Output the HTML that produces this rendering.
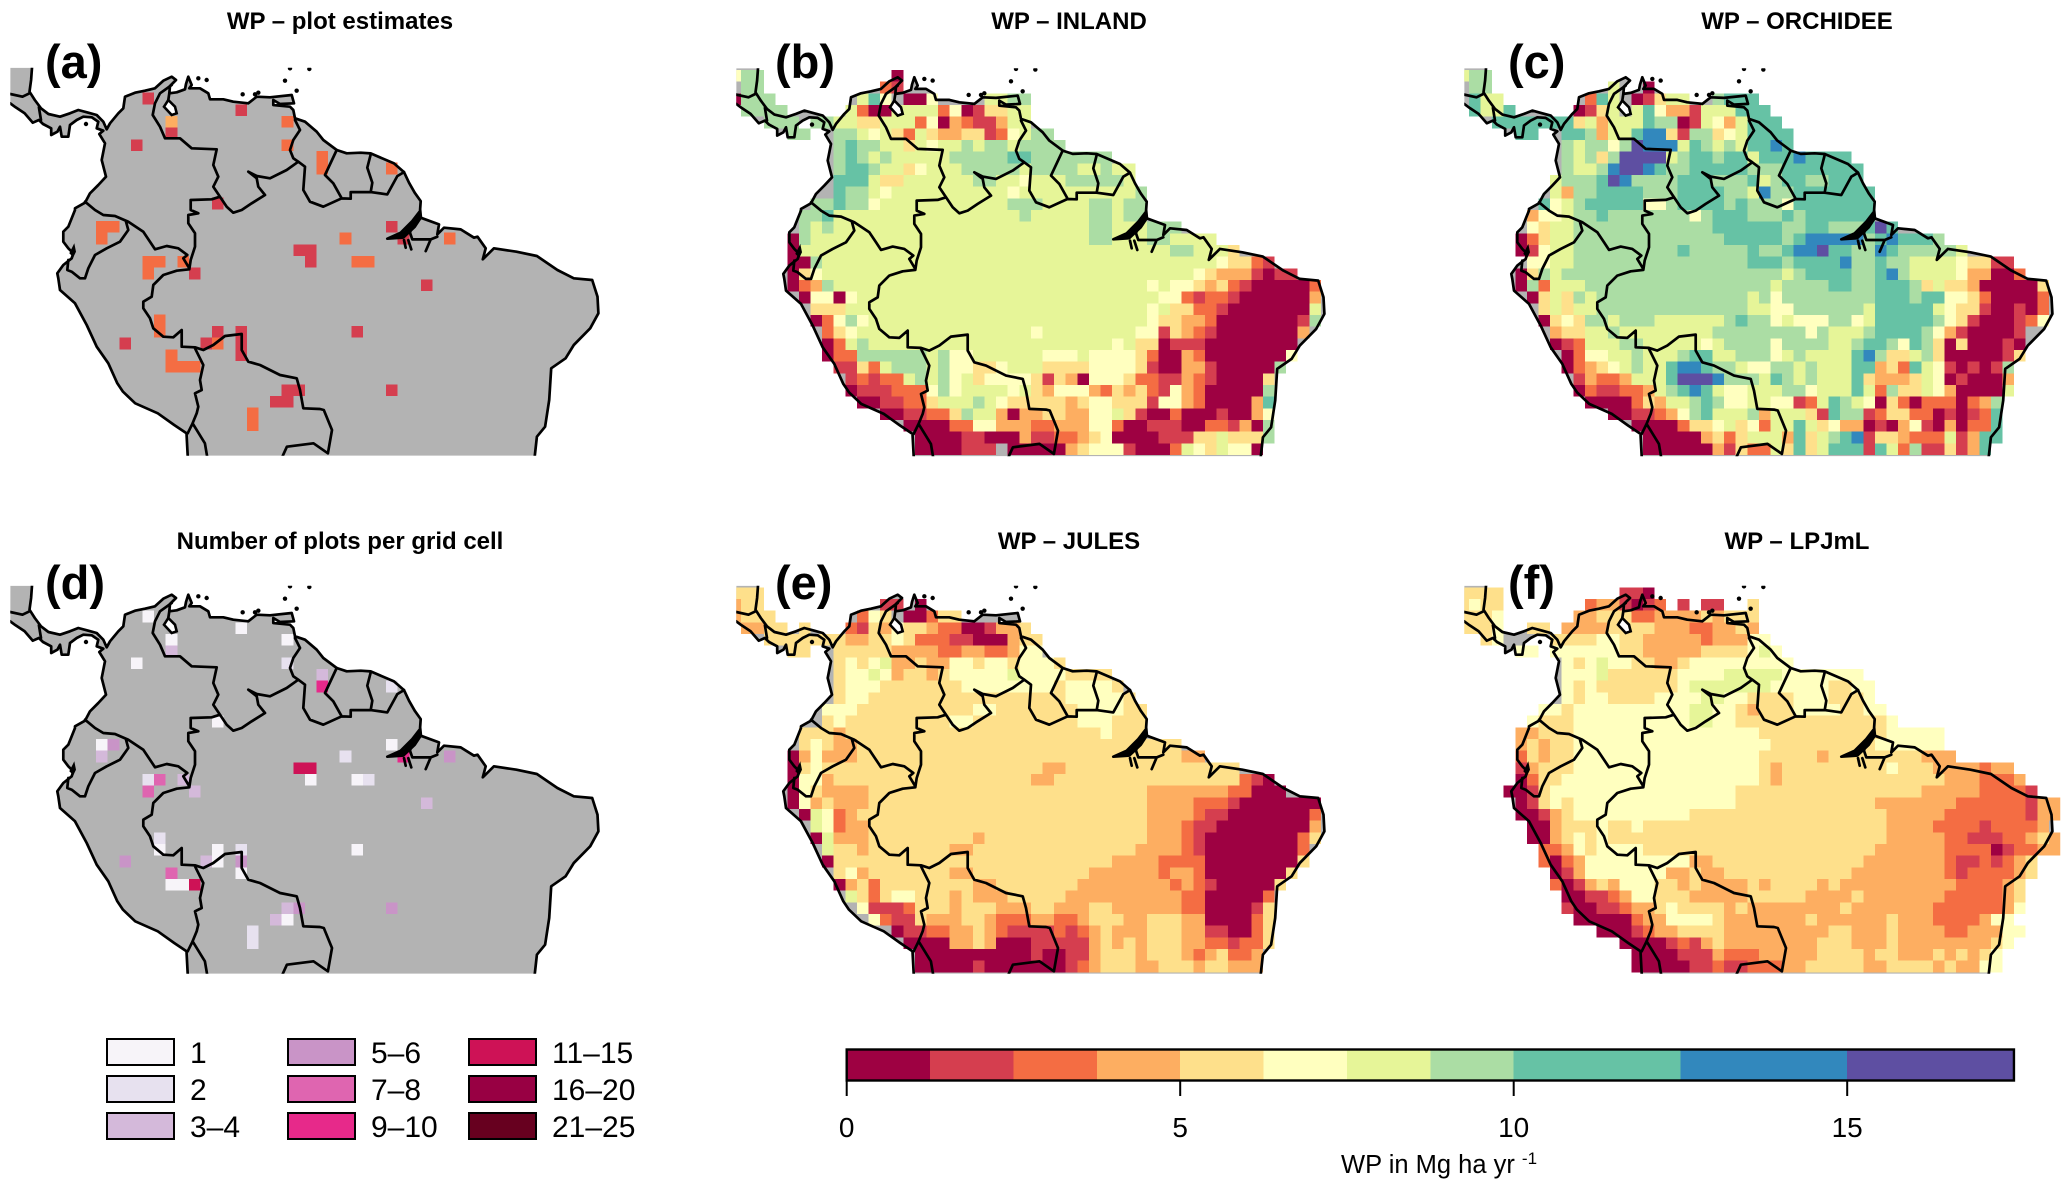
<!DOCTYPE html>
<html lang="en">
<head>
<meta charset="utf-8">
<title>Wood productivity maps</title>
<style>
html,body{margin:0;padding:0;background:#fff;}
svg{display:block;}
text{font-family:"Liberation Sans",sans-serif;fill:#000;}
.title{font-size:24px;font-weight:bold;text-anchor:middle;}
.tag{font-size:47px;font-weight:bold;}
.lab{font-size:30px;}
</style>
</head>
<body>
<svg id="fig" xmlns="http://www.w3.org/2000/svg" width="2067" height="1190" viewBox="0 0 2067 1190">
<defs><clipPath id="map-clip"><rect x="10.25" y="67.7" width="596" height="388"/></clipPath></defs>
<rect width="2067" height="1190" fill="#fff"/>
<g id="maps"></g>
<text class="title" x="340" y="29">WP – plot estimates</text>
<text class="title" x="1069" y="29">WP – INLAND</text>
<text class="title" x="1797" y="29">WP – ORCHIDEE</text>
<text class="title" x="340" y="549">Number of plots per grid cell</text>
<text class="title" x="1069" y="549">WP – JULES</text>
<text class="title" x="1797" y="549">WP – LPJmL</text>
<text class="tag" x="45" y="78">(a)</text>
<text class="tag" x="775" y="78">(b)</text>
<text class="tag" x="1508" y="78">(c)</text>
<text class="tag" x="45" y="599">(d)</text>
<text class="tag" x="775" y="599">(e)</text>
<text class="tag" x="1508" y="599">(f)</text>
<g id="count-legend"></g>
<g id="colorbar"></g>
<text x="1341" y="1173" font-size="25.5">WP in Mg ha yr <tspan dy="-9" font-size="17">-1</tspan></text>
</svg>
<script>
/* colour-scale data */
const wpBreaks = [0, 1.25, 2.5, 3.75, 5, 6.25, 7.5, 8.75, 10, 12.5, 15, 17.5];
const wpTicks = [0, 5, 10, 15];
const countUpper = [1, 2, 4, 6, 8, 10, 15, 20, 25];
const countLabels = ["1", "2", "3–4", "5–6", "7–8", "9–10", "11–15", "16–20", "21–25"];

/* grid values: each character is a WP band index (hex), '.' = no data */
const inlandRows = [
"577.. ..... ....0 ..... ..... ..... ..... ..... ..... ..... ..",
".77.. ..... ...21 ..... ..... ..... ..... ..... ..... ..... ..",
"0777. ..... .685. 005.. ..667 7.... ..... ..... ..... ..... ..",
".7777 ..... 62006 66625 01446 6.... ..... ..... ..... ..... ..",
"...77 7.776 64466 62503 21136 6.... ..... ..... ..... ..... ..",
"..... 77..7 76564 26433 44125 677.. ..... ..... ..... ..... ..",
"..... ....7 87766 46566 76776 7777. ..... ..... ..... ..... ..",
"..... ....7 87676 66667 77778 87777 777.. ..... ..... ..... ..",
"..... ....7 88766 45666 77777 67777 66766 ..... ..... ..... ..",
"..... ....8 88644 66666 67766 56667 77776 ..... ..... ..... ..",
"..... ....8 77656 66666 66665 66666 66666 7.... ..... ..... ..",
"..... ..778 77566 66666 66667 77666 67767 7.... ..... ..... ..",
"..... .7786 66666 66666 66666 76666 67767 7.... ..... ..... ..",
"..... .7676 66666 66666 66666 66666 67766 6777. ..... ..... ..",
"..... 07666 66666 66666 66666 66666 67766 67766 66... ..... ..",
"..... 06666 66666 66666 66666 66666 66666 66677 6664. ..... ..",
"..... 00766 66666 66666 66666 66666 66666 66666 66544 21... ..",
"..... 04566 66666 66666 66666 66666 66666 66666 54333 1011. ..",
"..... 02376 66666 66666 66666 66666 66666 65655 43421 00000 2.",
"..... .0550 56666 66666 66666 66666 66666 66552 12210 00000 3.",
"..... ..444 66666 66666 66666 66666 66666 65644 22100 00000 6.",
"..... ..025 75666 66666 66666 66666 66666 65443 32000 00001 7.",
"..... ...24 56666 66666 66666 65666 66666 55143 21000 00003 ..",
"..... ...02 67666 66666 66666 66666 66656 44011 10000 0000. ..",
"..... ...02 27777 77675 56666 66555 65555 42003 20000 0005. ..",
"..... ....1 14267 77675 54456 66444 45555 41003 31000 007.. ..",
"..... ..... 12122 67675 64555 54143 05554 22113 21000 04... ..",
"..... ..... 01112 22575 66665 64355 53243 42153 20000 07... ..",
"..... ..... .0011 22466 67654 44443 45544 41553 20000 38... ..",
"..... ..... ...00 11224 76630 33443 35564 10020 00100 35... ..",
"..... ..... ..... 00002 25533 32233 35520 01110 02213 07... ..",
"..... ..... ..... .0000 11000 31122 34500 00111 44644 47... ..",
"..... ..... ..... .0000 111.0 00003 45551 00026 54655 0.... .."
];
const orchideeRows = [
"677.. ..... ..... ..... ..... ..... ..... ..... ..... ..... ..",
".77.. ..... ...6. .0... ..... ..... ..... ..... ..... ..... ..",
".866. ..... .286. 01466 ..788 8.... ..... ..... ..... ..... ..",
".8668 ..... 0146. 68533 16668 88... ..... ..... ..... ..... ..",
"...88 88888 46366 68770 16536 888.. ..... ..... ..... ..... ..",
"..... 88..8 87366 89941 77456 8888. ..... ..... ..... ..... ..",
"..... ....7 67757 a9996 87676 8898. ..... ..... ..... ..... ..",
"..... ....7 6747a aaa67 88788 68889 8888. ..... ..... ..... ..",
"..... ....7 6679a a9877 88888 77788 88888 ..... ..... ..... ..",
"..... ...67 778a9 77778 88777 86788 77888 ..... ..... ..... ..",
"..... ...63 77888 87778 88877 69778 88888 8.... ..... ..... ..",
"..... ..856 78888 85578 88878 77758 88888 8.... ..... ..... ..",
"..... .3556 77877 77777 57888 77787 88888 8.... ..... ..... ..",
"..... .5466 77777 77777 77888 88877 88777 8a8.. ..... ..... ..",
"..... 02466 77777 77777 77788 88878 99999 78988 87... ..... ..",
"..... 01566 77777 77778 77777 87789 9a887 79877 7776. ..... ..",
"..... .5566 77777 77777 77777 88878 88897 78776 66654 411.. ..",
"..... 04767 77777 77777 77777 77767 88887 78976 66653 3002. ..",
"..... 07266 67777 77777 77777 77677 77887 78887 46443 00000 4.",
"..... .0464 76777 77777 77777 67577 77777 78887 88554 20000 2.",
"..... ..464 66777 77777 77777 66557 77777 68888 86544 10010 2.",
"..... ..045 47767 77666 66678 77565 55775 68888 87541 00012 5.",
"..... ...34 46676 66666 66777 77777 57666 78888 75310 0001. ..",
"..... ...01 26667 76666 65677 77577 77667 88758 74040 0010. ..",
"..... ....0 25566 76667 88667 77567 66668 97446 74000 0014. ..",
"..... ....0 23456 76689 98776 55776 76668 83428 65101 017.. ..",
"..... ..... 13223 6668a aa977 76876 76668 43334 65010 003.. ..",
"..... ..... 02112 23678 98655 66677 56668 62744 65300 006.. ..",
"..... ..... .0000 24366 78755 66551 26876 50420 22202 37... ..",
"..... ..... ...00 11235 78666 73666 41877 12442 20101 28... ..",
"..... ..... ..... 00002 44564 52668 64533 01035 10302 28... ..",
"..... ..... ..... .0000 03424 66638 46789 14432 22613 88... ..",
"..... ..... ..... .0000 00314 22648 46888 18627 11413 8.... .."
];
const julesRows = [
"444.. ..... ..... ..... ..... ..... ..... ..... ..... ..... ..",
"344.. ..... ...11 .0... ..... ..... ..... ..... ..... ..... ..",
"3444. ..... .254. 00244 ..... ..... ..... ..... ..... ..... ..",
".3344 .4... 21435 44322 00133 4.... ..... ..... ..... ..... ..",
"...44 44444 33445 42221 10003 44... ..... ..... ..... ..... ..",
"..... 44..4 44443 33322 33223 55... ..... ..... ..... ..... ..",
"..... ....4 54563 34335 54554 5554. ..... ..... ..... ..... ..",
"..... ....4 55653 44345 55556 55554 444.. ..... ..... ..... ..",
"..... ....4 55544 44444 55555 55545 5554. ..... ..... ..... ..",
"..... ....4 55444 44444 44444 44445 55554 ..... ..... ..... ..",
"..... ...55 54444 44444 45544 44444 55554 4.... ..... ..... ..",
"..... ...45 44444 44445 54444 44444 55544 4.... ..... ..... ..",
"..... .4443 44444 44444 44444 44444 44544 4.... ..... ..... ..",
"..... .4543 34444 44444 44444 44444 44444 4444. ..... ..... ..",
"..... 03533 34444 44444 44444 44444 44444 44443 3.... ..... ..",
"..... 04544 44444 44444 44444 44334 44444 44444 4444. ..... ..",
"..... 05534 44444 44444 44444 43344 44444 44444 44442 10... ..",
"..... 05433 33444 44444 44444 44444 44444 43333 33322 000.. ..",
"..... 05343 33444 44444 44444 44444 44444 43333 22210 00000 0.",
"..... .0652 34444 44444 44444 44444 44444 43333 21100 00000 2.",
"..... ..652 33444 44444 44444 44444 44444 43332 11000 00000 3.",
"..... ..063 33444 44444 43444 44444 44444 43332 10000 00002 4.",
"..... ...64 43444 44443 34444 44444 44444 33332 10000 00002 ..",
"..... ...04 44444 44444 44444 44444 44433 33222 20000 00004 ..",
"..... ....4 53444 44443 34444 44444 43333 33233 20000 0004. ..",
"..... ....0 34244 44444 43344 44444 33333 33323 21000 004.. ..",
"..... ..... 64245 54443 43334 44443 33333 33332 20000 02... ..",
"..... ..... .5111 24443 44433 34433 34433 33332 20000 14... ..",
"..... ..... ..521 14333 44322 23322 34443 34443 30000 24... ..",
"..... ..... ....0 11223 34321 11121 23433 34443 31100 24... ..",
"..... ..... ..... 00003 34300 01111 13434 34443 32212 24... ..",
"..... ..... ..... .0000 00000 01001 13444 34443 23422 3.... ..",
"..... ..... ..... .0000 01000 00001 23444 33444 34433 3.... .."
];
const lpjmlRows = [
"4444. ..... ....1 10... ..... ..... ..... ..... ..... ..... ..",
"4544. ..... .2331 012.1 .11.. 4.... ..... ..... ..... ..... ..",
"4445. ..... 33444 22333 34344 4.... ..... ..... ..... ..... ..",
"4445. .44.3 33344 44333 22334 3.... ..... ..... ..... ..... ..",
"..45. ...44 44554 43333 32333 55... ..... ..... ..... ..... ..",
"..... 55.55 55554 43333 34444 565.. ..... ..... ..... ..... ..",
"..... ....5 45655 44334 55555 5555. ..... ..... ..... ..... ..",
"..... ....5 55644 44445 55566 66655 55555 ..... ..... ..... ..",
"..... ....5 45444 44445 66666 66555 55445 5.... ..... ..... ..",
"..... ....5 45544 44555 56655 44445 55444 5.... ..... ..... ..",
"..... ..554 55555 55555 66554 34445 55544 55... ..... ..... ..",
"..... .5444 55555 55555 66554 44444 44444 445.. ..... ..... ..",
"..... 33444 55555 55555 55555 54444 44444 44555 55... ..... ..",
"..... 34344 55555 55555 55555 55444 44444 45555 55... ..... ..",
"..... 24344 55555 55555 55555 54444 43444 44444 333.. ..... ..",
"..... 13444 55555 55555 55555 54344 44444 44544 43333 233.. ..",
"..... 02445 55555 55555 55555 54344 44444 44444 44333 2223. ..",
"....0 01455 55555 55555 55554 44444 44444 44444 33333 22221 ..",
"..... 01454 55555 55555 55554 44444 44444 43333 33322 22221 33",
"..... 00134 55555 55555 44444 44444 44444 44333 33222 22221 33",
"..... .0034 44544 54444 44444 44444 44444 44333 32222 12222 3.",
"..... .0034 54544 44444 44444 44444 44444 44333 33221 11223 43",
"..... ..223 54555 54444 44444 44444 44444 43333 33222 20122 33",
"..... ..202 35555 55555 33444 44444 44444 33333 33211 21234 ..",
"..... ...01 35555 55533 43344 44444 44443 33333 33212 22234 ..",
"..... ...20 13435 55443 43333 43444 43433 33333 33322 2234. ..",
"..... ....0 01123 55444 33333 44444 33334 33333 33222 2234. ..",
"..... ....1 00112 33454 44434 33333 33343 33333 32222 2235. ..",
"..... ..... 00000 23355 55433 33333 43333 33433 32222 355.. ..",
"..... ..... ..000 12334 44433 33333 33443 33433 33223 3355. ..",
"..... ..... ....0 00012 13433 33333 34443 33433 33333 345.. ..",
"..... ..... ..... 00001 11322 23333 34444 34433 34343 45... ..",
"..... ..... ..... 00000 11211 22233 44444 33444 43433 55... .."
];

/* plot-based grid cells shown in panels (a) and (d) */
const plotCols  = [12,20,14,14,11,24,24,27,27,33,18,33,29,34,38,8,9,8,25,26,26,30,31,12,13,12,15,16,36,13,13,18,20,30,10,17,18,20,20,14,14,15,16,24,25,23,24,33,21,21];
const plotRows  = [2,3,4,5,6,4,6,7,8,8,11,13,14,14,14,13,13,14,15,15,16,16,16,16,16,17,16,17,18,21,22,22,22,22,23,23,23,23,24,24,25,25,25,27,27,28,28,27,29,30];
const plotWP    = [2,2,4.4,2,2,3,3,3,3,3,2,2,3,2,3,3,3,3,2,2,2,3,3,3,3,3,3,2,2,3,3,2,2,2,2,2,3,2,2,3,3,3,3,2,2,2,2,2,3,3];
const plotCount = [1,1,1,3,1,1,2,3,10,2,1,1,2,10,5,1,5,3,12,12,1,1,2,2,7,7,3,3,3,2,1,1,2,1,5,3,1,5,1,7,1,1,12,3,5,3,1,5,2,2];

/* outline traces; each trace lists [space, points] segments */
const F = (x, y) => [x / 2.44, y / 3];
const A = (x, y) => [60 + x / 3, 60 + y / 3];
const B = (x, y) => [40 + x / 3, 210 + y / 3];
const C = (x, y) => [174 + x / 3, 149.4 + y / 3];

const coastEastTrace = [
  [F, "78 203 76 240 72 275 85 300 100 325 118 342"],
  [A, "0 170 30 160 55 150 85 158 110 165 130 185 140 208 150 190 175 160 190 145 195 110 225 98 255 92 285 85 310 62 335 50 348 60 330 78 328 100 350 97 375 88 378 72 385 50 395 75 388 85 420 85 445 100 450 118 490 118 520 125 565 130 590 110 630 112 695 105 702 130 660 132 640 120 640 135 690 140 700 150 705 175 735 185 770 215 790 240 830 270 860 280"],
  [C, "560 10 590 12 660 42 690 68 705 100 722 130 740 155 738 185 715 215 680 250 640 268 685 265 715 235 740 205 795 225 790 255 810 235 860 240 900 265"],
  [F, "1165 710 1185 745 1178 778 1205 745 1260 755 1310 768 1360 810 1400 835 1445 840 1458 890 1460 940 1440 985 1400 1035 1380 1075 1345 1105 1340 1200 1330 1280 1310 1310 1305 1367"]
];
const coastWestTrace = [
  [F, "458 1367 455 1300 425 1275 385 1240 330 1210 300 1175"],
  [B, "232 520 205 460 170 410 140 345 105 280 60 240 55 205 52 190 70 165 95 145 100 130 85 115 70 95 70 65 85 50 97 20 105 0"],
  [A, "45 445 75 428 90 400 115 375 138 350 125 300 135 250 118 222 130 212 110 205 115 185 95 172 70 170 50 180 30 195 25 230 5 230 0 200"],
  [F, "140 395 125 405 125 385 105 372 95 360 80 368 60 340 38 322 25 310"]
];
const borderTraces = [
  [[F, "25 282 55 290 72 280"]],
  [[F, "95 322 100 360"]],
  [[A, "335 75 300 100 285 130 278 165 300 200 315 235 360 235 395 265 470 268 460 315 475 350 460 380 480 410 500 440 520 458 545 450 575 430 615 405 595 380 590 355 565 335 590 348 630 355 680 330 715 305"]],
  [[A, "705 180 720 210 700 240 690 270 700 295 715 305 735 320 730 390 750 425 790 440 845 415 820 370 795 345 830 270"]],
  [[C, "503 147 530 148 530 128 590 128 640 135 670 80 690 68"]],
  [[C, "590 15 580 55 595 100 590 128"]],
  [[A, "480 410 455 418 392 420 392 450 415 460 385 465 385 490 405 520 405 560 392 600"], [B, "448 178"]],
  [[A, "75 425 105 450"], [B, "190 15 225 18 265 35 310 65 330 95 345 118 380 108 415 115 442 135 430 145 448 175"]],
  [[B, "258 35 265 60 240 95 200 115 165 135 145 175 135 205 120 205 95 185 82 180 85 150"]],
  [[B, "448 178 410 182 370 195 340 225 335 260 310 275 310 295 330 325 340 355 370 380 400 382 425 360 425 410 465 412 490 420 520 405 555 378 605 372 605 420 625 455 660 465 720 495 770 505 780 540 790 595 840 597"], [F, "790 1230 810 1290 800 1360"]],
  [[B, "465 415 490 465 480 510 485 540 465 550 475 590"], [F, "480 1240 470 1270 458 1300"]],
  [[F, "470 1270 500 1330 505 1367"]],
  [[F, "690 1367 700 1340 765 1330 800 1360"]],
  [[C, "715 225 708 250 715 270 770 270 790 262"]],
  [[C, "690 272 695 295"]],
  [[C, "703 272 712 300"]],
  [[C, "770 270 755 305"]],
  [[A, "328 100 325 120"]]
];
const mouthTraces = [
  [[C, "740 155 738 190 715 215 690 245 640 268 690 268 725 235 745 205"]],
  [[B, "103 100 108 125 100 142 88 130"]]
];
const lakeTrace = [[A, "325 120 345 140 350 160 335 165 312 140"]];
const islandTrace = "690 25 748 27 675 62 710 92 548 103 595 98 585 103 440 60 415 55 78 192";

function toPairs(trace) {
  const out = [];
  trace.forEach(seg => {
    const n = seg[1].trim().split(/\s+/).map(Number);
    for (let i = 0; i < n.length; i += 2) {
      const p = seg[0](n[i], n[i + 1]);
      out.push(p[0].toFixed(1) + " " + p[1].toFixed(1));
    }
  });
  return out.join(" L");
}
const coastEast = toPairs(coastEastTrace);
const coastWest = toPairs(coastWestTrace);
const landD = "M10.25 67.7 L" + coastEast + " L" + coastWest + " Z";
const coastD = "M" + coastEast + " M" + coastWest;
const borderD = borderTraces.map(t => "M" + toPairs(t)).join(" ");
const mouthD = mouthTraces.map(t => "M" + toPairs(t) + " Z").join(" ");
const lakeD = "M" + toPairs(lakeTrace) + " Z";

const wpColors = ["#9E0142","#D53E4F","#F46D43","#FDAE61","#FEE08B","#FFFFBF","#E6F598","#ABDDA4","#66C2A5","#3288BD","#5E4FA2"];
const countColors = ["#F7F4F9","#E7E1EF","#D4B9DA","#C994C7","#DF65B0","#E7298A","#CE1256","#980043","#67001F"];
const SVGNS = "http://www.w3.org/2000/svg";

function mk(tag, parent) {
  const el = document.createElementNS(SVGNS, tag);
  parent.appendChild(el);
  return el;
}
/* axis functions */
const colX = k => 3.28 + 11.6 * k;
const rowY = r => 69.33 + 11.667 * r;
const barX = v => 846.7 + 66.7 * v;
function wpColor(v) {
  for (let i = 0; i < wpColors.length; i++) if (v < wpBreaks[i + 1]) return wpColors[i];
  return wpColors[wpColors.length - 1];
}
function countColor(n) {
  for (let i = 0; i < countUpper.length; i++) if (n <= countUpper[i]) return countColors[i];
  return countColors[countColors.length - 1];
}
function bandValue(ch) {
  const i = parseInt(ch, 16);
  return (wpBreaks[i] + wpBreaks[i + 1]) / 2;
}

function drawCell(layer, k, r, fill) {
  const c = mk("rect", layer);
  
  
  c.setAttribute("x", colX(k));
  c.setAttribute("y", rowY(r));
  c.setAttribute("width", 11.6);
  c.setAttribute("height", 11.667);
  c.setAttribute("fill", fill);
  c.setAttribute("shape-rendering", "crispEdges");
}

function drawPanel(name, ox, oy, paint) {
  const maps = document.getElementById("maps");
  const g = mk("g", maps);
  
  
  g.setAttribute("transform", "translate(" + ox + " " + oy + ")");
  g.setAttribute("clip-path", "url(#map-clip)");

  const land = mk("path", g);
  
  
  land.setAttribute("d", landD);
  land.setAttribute("fill", "#B3B3B3");

  const cells = mk("g", g);
  
  
  paint(cells);

  const lake = mk("path", g);
  
  
  lake.setAttribute("d", lakeD);
  lake.setAttribute("fill", "#fff");
  lake.setAttribute("stroke", "#000");
  lake.setAttribute("stroke-width", "2.6");

  const coast = mk("path", g);
  
  
  coast.setAttribute("d", coastD);
  const border = mk("path", g);
  
  
  border.setAttribute("d", borderD);
  [coast, border].forEach(p => {
    p.setAttribute("fill", "none");
    p.setAttribute("stroke", "#000");
    p.setAttribute("stroke-width", "2.7");
    p.setAttribute("stroke-linejoin", "round");
    p.setAttribute("stroke-linecap", "round");
  });
  const mouth = mk("path", g);
  
  
  mouth.setAttribute("d", mouthD);
  mouth.setAttribute("fill", "#000");
  const dots = islandTrace.split(" ").map(Number);
  for (let i = 0; i < dots.length; i += 2) {
    const e = mk("circle", g);
    
    
    const p = A(dots[i], dots[i + 1]);
    e.setAttribute("cx", p[0]);
    e.setAttribute("cy", p[1]);
    e.setAttribute("r", 2.2);
    e.setAttribute("fill", "#000");
  }
}

function gridPainter(rows) {
  return layer => rows.forEach((row, r) => {
    const chars = row.replace(/ /g, "");
    for (let k = 0; k < chars.length; k++) {
      if (chars[k] !== ".") drawCell(layer, k, r, wpColor(bandValue(chars[k])));
    }
  });
}

drawPanel("map-panel-a", 0, 0, layer => plotCols.forEach((k, i) => drawCell(layer, k, plotRows[i], wpColor(plotWP[i]))));
drawPanel("map-panel-b", 726, 0.6, gridPainter(inlandRows));
drawPanel("map-panel-c", 1454, 0.6, gridPainter(orchideeRows));
drawPanel("map-panel-d", 0, 518, layer => plotCols.forEach((k, i) => drawCell(layer, k, plotRows[i], countColor(plotCount[i]))));
drawPanel("map-panel-e", 726, 518, gridPainter(julesRows));
drawPanel("map-panel-f", 1454, 518, gridPainter(lpjmlRows));

/* plot-count legend */
(function () {
  const lg = document.getElementById("count-legend");
  const legendLeft = k => 107 + 181 * k;
  const legendTop = r => 1039 + 37 * r;
  countLabels.forEach((label, i) => {
    const col = Math.floor(i / 3), row = i % 3;
    const s = mk("rect", lg);
    
    
    s.setAttribute("x", legendLeft(col));
    s.setAttribute("y", legendTop(row));
    s.setAttribute("width", 67);
    s.setAttribute("height", 26);
    s.setAttribute("fill", countColors[i]);
    s.setAttribute("stroke", "#000");
    s.setAttribute("stroke-width", "2");
    const t = mk("text", lg);
    
    
    t.setAttribute("class", "lab");
    t.setAttribute("x", legendLeft(col) + 83);
    t.setAttribute("y", legendTop(row) + 24);
    t.textContent = label;
  });
})();

/* colour bar */
(function () {
  const cb = document.getElementById("colorbar");
  wpColors.forEach((color, i) => {
    const seg = mk("rect", cb);
    
    
    seg.setAttribute("x", barX(wpBreaks[i]));
    seg.setAttribute("y", 1049.5);
    seg.setAttribute("width", barX(wpBreaks[i + 1]) - barX(wpBreaks[i]));
    seg.setAttribute("height", 31);
    seg.setAttribute("fill", color);
    seg.setAttribute("shape-rendering", "crispEdges");
  });
  const frame = mk("rect", cb);
  
  
  frame.setAttribute("x", barX(0));
  frame.setAttribute("y", 1049.5);
  frame.setAttribute("width", barX(17.5) - barX(0));
  frame.setAttribute("height", 31);
  frame.setAttribute("fill", "none");
  frame.setAttribute("stroke", "#000");
  frame.setAttribute("stroke-width", "2.4");
  wpTicks.forEach(v => {
    const tick = mk("line", cb);
    
    
    tick.setAttribute("x1", barX(v));
    tick.setAttribute("x2", barX(v));
    tick.setAttribute("y1", 1080.5);
    tick.setAttribute("y2", 1096);
    tick.setAttribute("stroke", "#000");
    tick.setAttribute("stroke-width", "2");
    const label = mk("text", cb);
    
    
    label.setAttribute("x", barX(v));
    label.setAttribute("y", 1137);
    label.setAttribute("font-size", "28");
    label.setAttribute("text-anchor", "middle");
    label.textContent = v;
  });
})();
</script>
</body>
</html>
